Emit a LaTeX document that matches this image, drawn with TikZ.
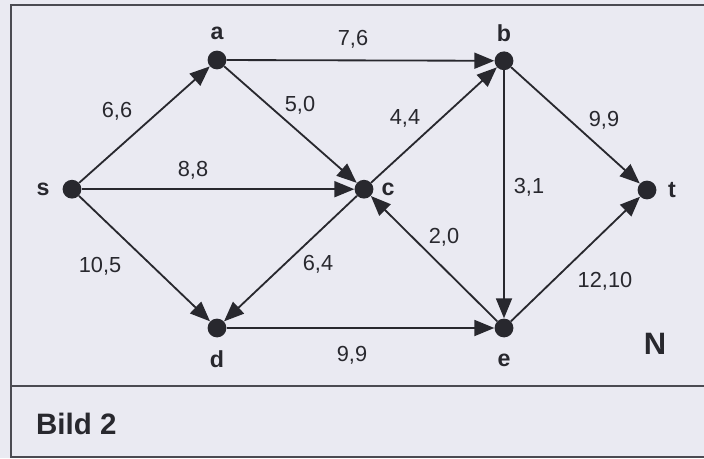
\documentclass[tikz,border=0pt]{standalone}
\usepackage{fontspec}
\setmainfont{Liberation Sans}
\usetikzlibrary{arrows.meta}
\definecolor{paper}{RGB}{234,234,242}
\definecolor{ink}{RGB}{40,40,46}
\definecolor{rule}{RGB}{75,75,82}
\tikzset{
  vertex/.style={circle,fill=ink,inner sep=0pt,minimum size=0.47cm},
  vname/.style={font=\fontsize{16.5}{16.5}\selectfont\bfseries,text=ink},
  flowlbl/.style={font=\fontsize{15.5}{15.5}\selectfont,text=ink},
  arc/.style={draw=ink,line width=1.3pt,-{Triangle[length=0.5cm,width=0.4cm]}},
}
\begin{document}
\begin{tikzpicture}
\fill[paper] (0,0) rectangle (17.6,11.45);
\useasboundingbox (0,0) rectangle (17.6,11.45);
\draw[rule,line width=1.4pt] (17.6,11.325) -- (0.275,11.325) -- (0.275,0.03) -- (17.6,0.03);
\draw[rule,line width=1.4pt] (0.275,1.8) -- (17.6,1.8);
% vertices
\node[vertex] (s) at (1.8,6.72) {};
\node[vertex] (a) at (5.425,9.95) {};
\node[vertex] (b) at (12.6,9.93) {};
\node[vertex] (c) at (9.1,6.72) {};
\node[vertex] (t) at (16.175,6.7) {};
\node[vertex] (d) at (5.425,3.25) {};
\node[vertex] (e) at (12.6,3.25) {};
\node[vname] (ls) at (1.075,6.72) {s};
\node[vname] (la) at (5.425,10.62) {a};
\node[vname] (lb) at (12.6,10.62) {b};
\node[vname] (lc) at (9.7,6.72) {c};
\node[vname] (lt) at (16.8,6.7) {t};
\node[vname] (ld) at (5.425,2.48) {d};
\node[vname] (le) at (12.6,2.45) {e};
\node[font=\fontsize{22}{22}\selectfont\bfseries,text=ink] (net) at (16.375,2.85) {N};
\node[font=\fontsize{21}{21}\selectfont\bfseries,text=ink,anchor=west] (title) at (0.78,0.85) {Bild 2};
% arcs
\draw[arc] (s) -- (a);
\draw[arc] (s) -- (c);
\draw[arc] (s) -- (d);
\draw[arc] (a) -- (b);
\draw[arc] (a) -- (c);
\draw[arc] (c) -- (b);
\draw[arc] (c) -- (d);
\draw[arc] (e) -- (c);
\draw[arc] (b) -- (t);
\draw[arc] (b) -- (e);
\draw[arc] (d) -- (e);
\draw[arc] (e) -- (t);
% capacities, flows
\node[flowlbl] (csa) at (2.925,8.675) {6,6};
\node[flowlbl] (csc) at (4.825,7.2) {8,8};
\node[flowlbl] (csd) at (2.5,4.8) {10,5};
\node[flowlbl] (cab) at (8.825,10.475) {7,6};
\node[flowlbl] (cac) at (7.5,8.825) {5,0};
\node[flowlbl] (ccb) at (10.125,8.5) {4,4};
\node[flowlbl] (ccd) at (7.95,4.85) {6,4};
\node[flowlbl] (cec) at (11.1,5.525) {2,0};
\node[flowlbl] (cbt) at (15.1,8.45) {9,9};
\node[flowlbl] (cbe) at (13.225,6.775) {3,1};
\node[flowlbl] (cde) at (8.8,2.575) {9,9};
\node[flowlbl] (cet) at (15.125,4.425) {12,10};
\end{tikzpicture}
\end{document}
